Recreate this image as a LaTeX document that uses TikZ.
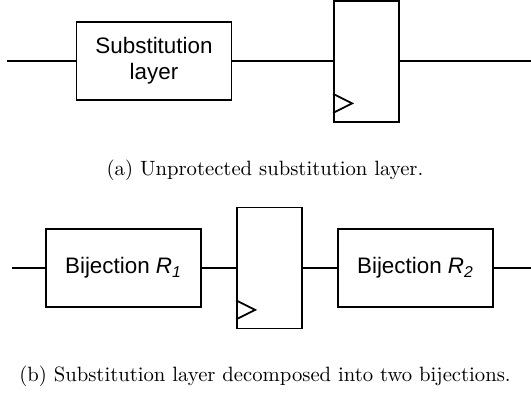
\documentclass[tikz,border=0pt]{standalone}
\usepackage{fontspec}
\newfontfamily\arialfont{Liberation Sans}
\usepackage{tikz}

\tikzset{
  block/.style={draw, minimum width=77.5pt, minimum height=39pt, inner sep=0pt,
    align=center, font=\arialfont\fontsize{11.2}{12.8}\selectfont},
  register/.style={draw, minimum width=32.5pt, minimum height=60.5pt, inner sep=0pt},
  caption/.style={font=\fontsize{10.35}{12}\selectfont}
}

\begin{document}
\begin{tikzpicture}[x=0.5pt,y=-0.5pt,line width=0.9pt]
    \useasboundingbox (0,0) rectangle (531,394);
    % unprotected layer
    \begin{scope}
      \coordinate (inA) at (7,61);
      \coordinate (outA) at (531,61);
      \node[block] (subst) at (154,61) {Substitution\\layer};
      \node[register] (regA) at (366.5,61.5) {};
      \draw (regA.south west) ++(0,-10) -- ++(19,-9.5) -- ++(-19,-9.5);
      \draw (inA) -- (subst.west);
      \draw (subst.east) -- (regA.west |- subst.east);
      \draw (regA.east |- outA) -- (outA);
      \node[caption] at (265,170) {(a) Unprotected substitution layer.};
    \end{scope}
    % decomposed layer
    \begin{scope}
      \coordinate (inB) at (12,268);
      \coordinate (outB) at (531,268);
      \node[block] (bijA) at (123.5,268) {Bijection \textit{R}\textsubscript{\textit{1}}};
      \node[register] (regB) at (269.5,268) {};
      \node[block] (bijB) at (415.5,268) {Bijection \textit{R}\textsubscript{\textit{2}}};
      \draw (regB.south west) ++(0,-10) -- ++(19,-9.5) -- ++(-19,-9.5);
      \draw (inB) -- (bijA.west);
      \draw (bijA.east) -- (regB.west);
      \draw (regB.east) -- (bijB.west);
      \draw (bijB.east) -- (outB);
      \node[caption] at (265,376) {(b) Substitution layer decomposed into two bijections.};
    \end{scope}
\end{tikzpicture}
\end{document}
